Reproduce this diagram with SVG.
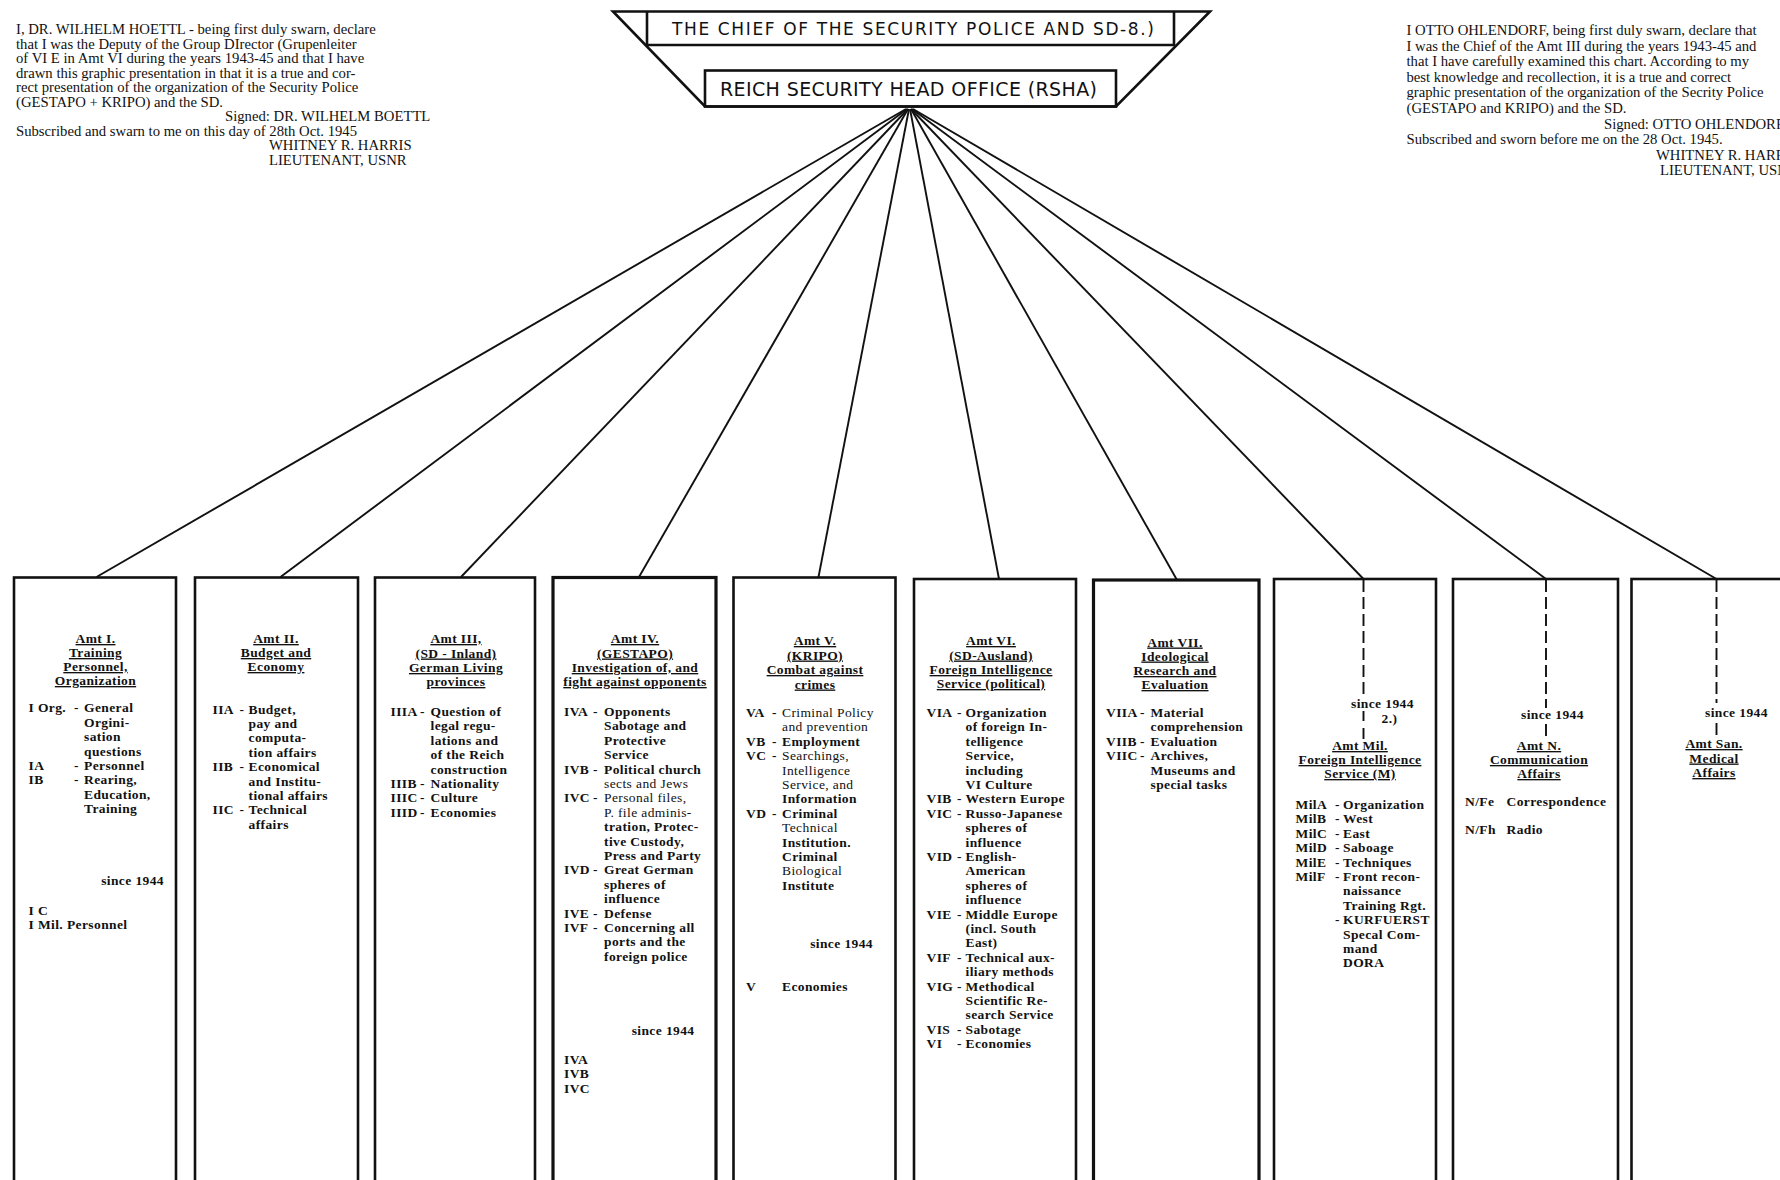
<svg xmlns="http://www.w3.org/2000/svg" width="1780" height="1180" viewBox="0 0 1780 1180">
<style>
.p{font-family:"Liberation Serif","Times New Roman",serif;font-size:14.7px;fill:#111}
.b{font-family:"Liberation Serif","Times New Roman",serif;font-weight:bold;font-size:13.5px;letter-spacing:0.4px;fill:#111}
.l{font-weight:normal}
.h{text-anchor:middle;text-decoration:underline}
.e{text-anchor:end}
.hd{font-family:"DejaVu Sans","Liberation Sans",sans-serif;fill:#111}
.box{fill:#fff;stroke:#111;stroke-width:2.6}
.bx{stroke-width:3.2}
.hl{fill:none;stroke:#111;stroke-width:2.6;stroke-linejoin:miter}
.conn{fill:none;stroke:#111;stroke-width:1.9}
.dash{fill:none;stroke:#111;stroke-width:1.9;stroke-dasharray:12 5}
</style>
<rect width="1780" height="1180" fill="#fff"/>

<g id="note-left">
<text class="p" x="16" y="34">I, DR. WILHELM HOETTL - being first duly swarn, declare</text>
<text class="p" x="16" y="48.5">that I was the Deputy of the Group DIrector (Grupenleiter</text>
<text class="p" x="16" y="63">of VI E in Amt VI during the years 1943-45 and that I have</text>
<text class="p" x="16" y="77.5">drawn this graphic presentation in that it is a true and cor-</text>
<text class="p" x="16" y="92">rect presentation of the organization of the Security Police</text>
<text class="p" x="16" y="106.5">(GESTAPO + KRIPO) and the SD.</text>
<text class="p" x="225" y="121">Signed: DR. WILHELM BOETTL</text>
<text class="p" x="16" y="135.5">Subscribed and swarn to me on this day of 28th Oct. 1945</text>
<text class="p" x="269" y="150">WHITNEY R. HARRIS</text>
<text class="p" x="269" y="164.5">LIEUTENANT, USNR</text>
</g>

<g id="note-right">
<text class="p" x="1406.5" y="35">I OTTO OHLENDORF, being first duly swarn, declare that</text>
<text class="p" x="1406.5" y="50.6">I was the Chief of the Amt III during the years 1943-45 and</text>
<text class="p" x="1406.5" y="66.2">that I have carefully examined this chart. According to my</text>
<text class="p" x="1406.5" y="81.8">best knowledge and recollection, it is a true and correct</text>
<text class="p" x="1406.5" y="97.4">graphic presentation of the organization of the Secrity Police</text>
<text class="p" x="1406.5" y="113">(GESTAPO and KRIPO) and the SD.</text>
<text class="p" x="1604" y="128.6">Signed: OTTO OHLENDORF</text>
<text class="p" x="1406.5" y="144.2">Subscribed and sworn before me on the 28 Oct. 1945.</text>
<text class="p" x="1656" y="159.8">WHITNEY R. HARRIS</text>
<text class="p" x="1660" y="175.4">LIEUTENANT, USNR</text>
</g>

<g id="chief">
<polygon class="hl" points="613,11.5 1210,11.5 1116,106.5 705,106.5"/>
<polyline class="hl" points="647,11.5 647,45 1174,45 1174,11.5"/>
<text class="hd" x="672" y="35" font-size="17" textLength="482" lengthAdjust="spacing">THE CHIEF OF THE SECURITY POLICE AND SD-8.)</text>
</g>

<g id="rsha">
<rect class="hl" x="705" y="70.5" width="411" height="36"/>
<text class="hd" x="720" y="95.5" font-size="19" textLength="377" lengthAdjust="spacing">REICH SECURITY HEAD OFFICE (RSHA)</text>
</g>

<g id="connectors">
<line class="conn" x1="906" y1="109" x2="96.5" y2="577"/>
<line class="conn" x1="907" y1="109" x2="280.5" y2="577"/>
<line class="conn" x1="908" y1="109" x2="461" y2="577"/>
<line class="conn" x1="908" y1="109" x2="639" y2="577"/>
<line class="conn" x1="909" y1="109" x2="818.5" y2="577"/>
<line class="conn" x1="910" y1="109" x2="999" y2="579"/>
<line class="conn" x1="911" y1="109" x2="1177" y2="580"/>
<line class="conn" x1="911" y1="109" x2="1363.5" y2="579"/>
<line class="conn" x1="912" y1="109" x2="1546" y2="579"/>
<line class="conn" x1="913" y1="109" x2="1716.5" y2="579"/>
</g>

<g id="amt1">
<rect class="box" x="14" y="577.5" width="162" height="620"/>
<text class="b h" x="95.5" y="643">Amt I.</text>
<text class="b h" x="95.5" y="657">Training</text>
<text class="b h" x="95.5" y="671">Personnel,</text>
<text class="b h" x="95.5" y="685">Organization</text>
<text class="b" x="28.5" y="712.4">I Org.</text><text class="b" x="74" y="712.4">-</text><text class="b" x="84" y="712.4">General</text>
<text class="b" x="84" y="726.8">Orgini-</text>
<text class="b" x="84" y="741.2">sation</text>
<text class="b" x="84" y="755.6">questions</text>
<text class="b" x="28.5" y="770">IA</text><text class="b" x="74" y="770">-</text><text class="b" x="84" y="770">Personnel</text>
<text class="b" x="28.5" y="784.4">IB</text><text class="b" x="74" y="784.4">-</text><text class="b" x="84" y="784.4">Rearing,</text>
<text class="b" x="84" y="798.8">Education,</text>
<text class="b" x="84" y="813.2">Training</text>
<text class="b e" x="164" y="885">since 1944</text>
<text class="b" x="28.5" y="914.5">I C</text>
<text class="b" x="28.5" y="929">I Mil. Personnel</text>
</g>

<g id="amt2">
<rect class="box" x="195" y="577.5" width="163" height="620"/>
<text class="b h" x="276" y="643">Amt II.</text>
<text class="b h" x="276" y="657">Budget and</text>
<text class="b h" x="276" y="671">Economy</text>
<text class="b" x="212.5" y="713.5">IIA</text><text class="b" x="239.5" y="713.5">-</text><text class="b" x="248.5" y="713.5">Budget,</text>
<text class="b" x="248.5" y="727.9">pay and</text>
<text class="b" x="248.5" y="742.3">computa-</text>
<text class="b" x="248.5" y="756.7">tion affairs</text>
<text class="b" x="212.5" y="771.1">IIB</text><text class="b" x="239.5" y="771.1">-</text><text class="b" x="248.5" y="771.1">Economical</text>
<text class="b" x="248.5" y="785.5">and Institu-</text>
<text class="b" x="248.5" y="799.9">tional affairs</text>
<text class="b" x="212.5" y="814.3">IIC</text><text class="b" x="239.5" y="814.3">-</text><text class="b" x="248.5" y="814.3">Technical</text>
<text class="b" x="248.5" y="828.7">affairs</text>
</g>

<g id="amt3">
<rect class="box" x="375" y="577.5" width="160" height="620"/>
<text class="b h" x="456" y="643">Amt III,</text>
<text class="b h" x="456" y="657.5">(SD - Inland)</text>
<text class="b h" x="456" y="672">German Living</text>
<text class="b h" x="456" y="686">provinces</text>
<text class="b" x="390.5" y="716">IIIA</text><text class="b" x="420" y="716">-</text><text class="b" x="430.5" y="716">Question of</text>
<text class="b" x="430.5" y="730.4">legal regu-</text>
<text class="b" x="430.5" y="744.8">lations and</text>
<text class="b" x="430.5" y="759.2">of the Reich</text>
<text class="b" x="430.5" y="773.6">construction</text>
<text class="b" x="390.5" y="788">IIIB</text><text class="b" x="420" y="788">-</text><text class="b" x="430.5" y="788">Nationality</text>
<text class="b" x="390.5" y="802.4">IIIC</text><text class="b" x="420" y="802.4">-</text><text class="b" x="430.5" y="802.4">Culture</text>
<text class="b" x="390.5" y="816.8">IIID</text><text class="b" x="420" y="816.8">-</text><text class="b" x="430.5" y="816.8">Economies</text>
</g>

<g id="amt4">
<rect class="box bx" x="553" y="577.5" width="163" height="620"/>
<text class="b h" x="635" y="643">Amt IV.</text>
<text class="b h" x="635" y="657.5">(GESTAPO)</text>
<text class="b h" x="635" y="672">Investigation of, and</text>
<text class="b h" x="635" y="686">fight against opponents</text>
<text class="b" x="564" y="716">IVA</text><text class="b" x="593" y="716">-</text><text class="b" x="604" y="716">Opponents</text>
<text class="b" x="604" y="730.4">Sabotage and</text>
<text class="b" x="604" y="744.8">Protective</text>
<text class="b" x="604" y="759.2">Service</text>
<text class="b" x="564" y="773.6">IVB</text><text class="b" x="593" y="773.6">-</text><text class="b" x="604" y="773.6">Political church</text>
<text class="b l" x="604" y="788">sects and Jews</text>
<text class="b" x="564" y="802.4">IVC</text><text class="b" x="593" y="802.4">-</text><text class="b l" x="604" y="802.4">Personal files,</text>
<text class="b l" x="604" y="816.8">P. file adminis-</text>
<text class="b" x="604" y="831.2">tration, Protec-</text>
<text class="b" x="604" y="845.6">tive Custody,</text>
<text class="b" x="604" y="860">Press and Party</text>
<text class="b" x="564" y="874.4">IVD</text><text class="b" x="593" y="874.4">-</text><text class="b" x="604" y="874.4">Great German</text>
<text class="b" x="604" y="888.8">spheres of</text>
<text class="b" x="604" y="903.2">influence</text>
<text class="b" x="564" y="917.6">IVE</text><text class="b" x="593" y="917.6">-</text><text class="b" x="604" y="917.6">Defense</text>
<text class="b" x="564" y="932">IVF</text><text class="b" x="593" y="932">-</text><text class="b" x="604" y="932">Concerning all</text>
<text class="b" x="604" y="946.4">ports and the</text>
<text class="b" x="604" y="960.8">foreign police</text>
<text class="b e" x="694.5" y="1035">since 1944</text>
<text class="b" x="564" y="1063.5">IVA</text>
<text class="b" x="564" y="1078">IVB</text>
<text class="b" x="564" y="1092.5">IVC</text>
</g>

<g id="amt5">
<rect class="box" x="733.5" y="577.5" width="162" height="620"/>
<text class="b h" x="815" y="645">Amt V.</text>
<text class="b h" x="815" y="659.5">(KRIPO)</text>
<text class="b h" x="815" y="674">Combat against</text>
<text class="b h" x="815" y="688.5">crimes</text>
<text class="b" x="746" y="717">VA</text><text class="b" x="772" y="717">-</text><text class="b l" x="782" y="717">Criminal Policy</text>
<text class="b l" x="782" y="731.4">and prevention</text>
<text class="b" x="746" y="745.8">VB</text><text class="b" x="772" y="745.8">-</text><text class="b" x="782" y="745.8">Employment</text>
<text class="b" x="746" y="760.2">VC</text><text class="b" x="772" y="760.2">-</text><text class="b l" x="782" y="760.2">Searchings,</text>
<text class="b l" x="782" y="774.6">Intelligence</text>
<text class="b l" x="782" y="789">Service, and</text>
<text class="b" x="782" y="803.4">Information</text>
<text class="b" x="746" y="817.8">VD</text><text class="b" x="772" y="817.8">-</text><text class="b" x="782" y="817.8">Criminal</text>
<text class="b l" x="782" y="832.2">Technical</text>
<text class="b" x="782" y="846.6">Institution.</text>
<text class="b" x="782" y="861">Criminal</text>
<text class="b l" x="782" y="875.4">Biological</text>
<text class="b" x="782" y="889.8">Institute</text>
<text class="b e" x="873" y="947.5">since 1944</text>
<text class="b" x="746" y="991">V</text><text class="b" x="782" y="991">Economies</text>
</g>

<g id="amt6">
<rect class="box" x="914" y="579" width="162" height="620"/>
<text class="b h" x="991" y="645">Amt VI.</text>
<text class="b h" x="991" y="659.5">(SD-Ausland)</text>
<text class="b h" x="991" y="674">Foreign Intelligence</text>
<text class="b h" x="991" y="688">Service (political)</text>
<text class="b" x="926.5" y="717">VIA</text><text class="b" x="957" y="717">-</text><text class="b" x="965.5" y="717">Organization</text>
<text class="b" x="965.5" y="731.4">of foreign In-</text>
<text class="b" x="965.5" y="745.8">telligence</text>
<text class="b" x="965.5" y="760.2">Service,</text>
<text class="b" x="965.5" y="774.6">including</text>
<text class="b" x="965.5" y="789">VI Culture</text>
<text class="b" x="926.5" y="803.4">VIB</text><text class="b" x="957" y="803.4">-</text><text class="b" x="965.5" y="803.4">Western Europe</text>
<text class="b" x="926.5" y="817.8">VIC</text><text class="b" x="957" y="817.8">-</text><text class="b" x="965.5" y="817.8">Russo-Japanese</text>
<text class="b" x="965.5" y="832.2">spheres of</text>
<text class="b" x="965.5" y="846.6">influence</text>
<text class="b" x="926.5" y="861">VID</text><text class="b" x="957" y="861">-</text><text class="b" x="965.5" y="861">English-</text>
<text class="b" x="965.5" y="875.4">American</text>
<text class="b" x="965.5" y="889.8">spheres of</text>
<text class="b" x="965.5" y="904.2">influence</text>
<text class="b" x="926.5" y="918.6">VIE</text><text class="b" x="957" y="918.6">-</text><text class="b" x="965.5" y="918.6">Middle Europe</text>
<text class="b" x="965.5" y="933">(incl. South</text>
<text class="b" x="965.5" y="947.4">East)</text>
<text class="b" x="926.5" y="961.8">VIF</text><text class="b" x="957" y="961.8">-</text><text class="b" x="965.5" y="961.8">Technical aux-</text>
<text class="b" x="965.5" y="976.2">iliary methods</text>
<text class="b" x="926.5" y="990.6">VIG</text><text class="b" x="957" y="990.6">-</text><text class="b" x="965.5" y="990.6">Methodical</text>
<text class="b" x="965.5" y="1005">Scientific Re-</text>
<text class="b" x="965.5" y="1019.4">search Service</text>
<text class="b" x="926.5" y="1033.8">VIS</text><text class="b" x="957" y="1033.8">-</text><text class="b" x="965.5" y="1033.8">Sabotage</text>
<text class="b" x="926.5" y="1048.2">VI</text><text class="b" x="957" y="1048.2">-</text><text class="b" x="965.5" y="1048.2">Economies</text>
</g>

<g id="amt7">
<rect class="box bx" x="1093.5" y="580" width="165.5" height="620"/>
<text class="b h" x="1175" y="646.5">Amt VII.</text>
<text class="b h" x="1175" y="660.5">Ideological</text>
<text class="b h" x="1175" y="675">Research and</text>
<text class="b h" x="1175" y="689">Evaluation</text>
<text class="b" x="1106" y="717">VIIA</text><text class="b" x="1140" y="717">-</text><text class="b" x="1150.5" y="717">Material</text>
<text class="b" x="1150.5" y="731.4">comprehension</text>
<text class="b" x="1106" y="745.8">VIIB</text><text class="b" x="1140" y="745.8">-</text><text class="b" x="1150.5" y="745.8">Evaluation</text>
<text class="b" x="1106" y="760.2">VIIC</text><text class="b" x="1140" y="760.2">-</text><text class="b" x="1150.5" y="760.2">Archives,</text>
<text class="b" x="1150.5" y="774.6">Museums and</text>
<text class="b" x="1150.5" y="789">special tasks</text>
</g>

<g id="amt-mil">
<rect class="box" x="1274" y="579" width="162" height="620"/>
<path class="dash" d="M1363.5,580 V697 M1363.5,711 V721 M1363.5,728 V739"/>
<text class="b" x="1351" y="708">since 1944</text>
<text class="b" x="1381.5" y="722.5">2.)</text>
<text class="b h" x="1360" y="750">Amt Mil.</text>
<text class="b h" x="1360" y="764">Foreign Intelligence</text>
<text class="b h" x="1360" y="778">Service (M)</text>
<text class="b" x="1295.5" y="809">MilA</text><text class="b" x="1335" y="809">-</text><text class="b" x="1343" y="809">Organization</text>
<text class="b" x="1295.5" y="823.4">MilB</text><text class="b" x="1335" y="823.4">-</text><text class="b" x="1343" y="823.4">West</text>
<text class="b" x="1295.5" y="837.8">MilC</text><text class="b" x="1335" y="837.8">-</text><text class="b" x="1343" y="837.8">East</text>
<text class="b" x="1295.5" y="852.2">MilD</text><text class="b" x="1335" y="852.2">-</text><text class="b" x="1343" y="852.2">Saboage</text>
<text class="b" x="1295.5" y="866.6">MilE</text><text class="b" x="1335" y="866.6">-</text><text class="b" x="1343" y="866.6">Techniques</text>
<text class="b" x="1295.5" y="881">MilF</text><text class="b" x="1335" y="881">-</text><text class="b" x="1343" y="881">Front recon-</text>
<text class="b" x="1343" y="895.4">naissance</text>
<text class="b" x="1343" y="909.8">Training Rgt.</text>
<text class="b" x="1335" y="924.2">-</text><text class="b" x="1343" y="924.2">KURFUERST</text>
<text class="b" x="1343" y="938.6">Specal Com-</text>
<text class="b" x="1343" y="953">mand</text>
<text class="b" x="1343" y="967.4">DORA</text>
</g>

<g id="amt-n">
<rect class="box" x="1453" y="579" width="165" height="620"/>
<path class="dash" d="M1546,580 V708 M1546,724 V739"/>
<text class="b" x="1521" y="719">since 1944</text>
<text class="b h" x="1539" y="750">Amt N.</text>
<text class="b h" x="1539" y="764">Communication</text>
<text class="b h" x="1539" y="778">Affairs</text>
<text class="b" x="1465" y="805.5">N/Fe</text><text class="b" x="1506.5" y="805.5">Correspondence</text>
<text class="b" x="1465" y="834">N/Fh</text><text class="b" x="1506.5" y="834">Radio</text>
</g>

<g id="amt-san">
<rect class="box" x="1631.5" y="579" width="200" height="620"/>
<path class="dash" d="M1716.5,580 V703 M1716.5,723 V735"/>
<text class="b" x="1705" y="717">since 1944</text>
<text class="b h" x="1714" y="748">Amt San.</text>
<text class="b h" x="1714" y="762.5">Medical</text>
<text class="b h" x="1714" y="777">Affairs</text>
</g>
</svg>
